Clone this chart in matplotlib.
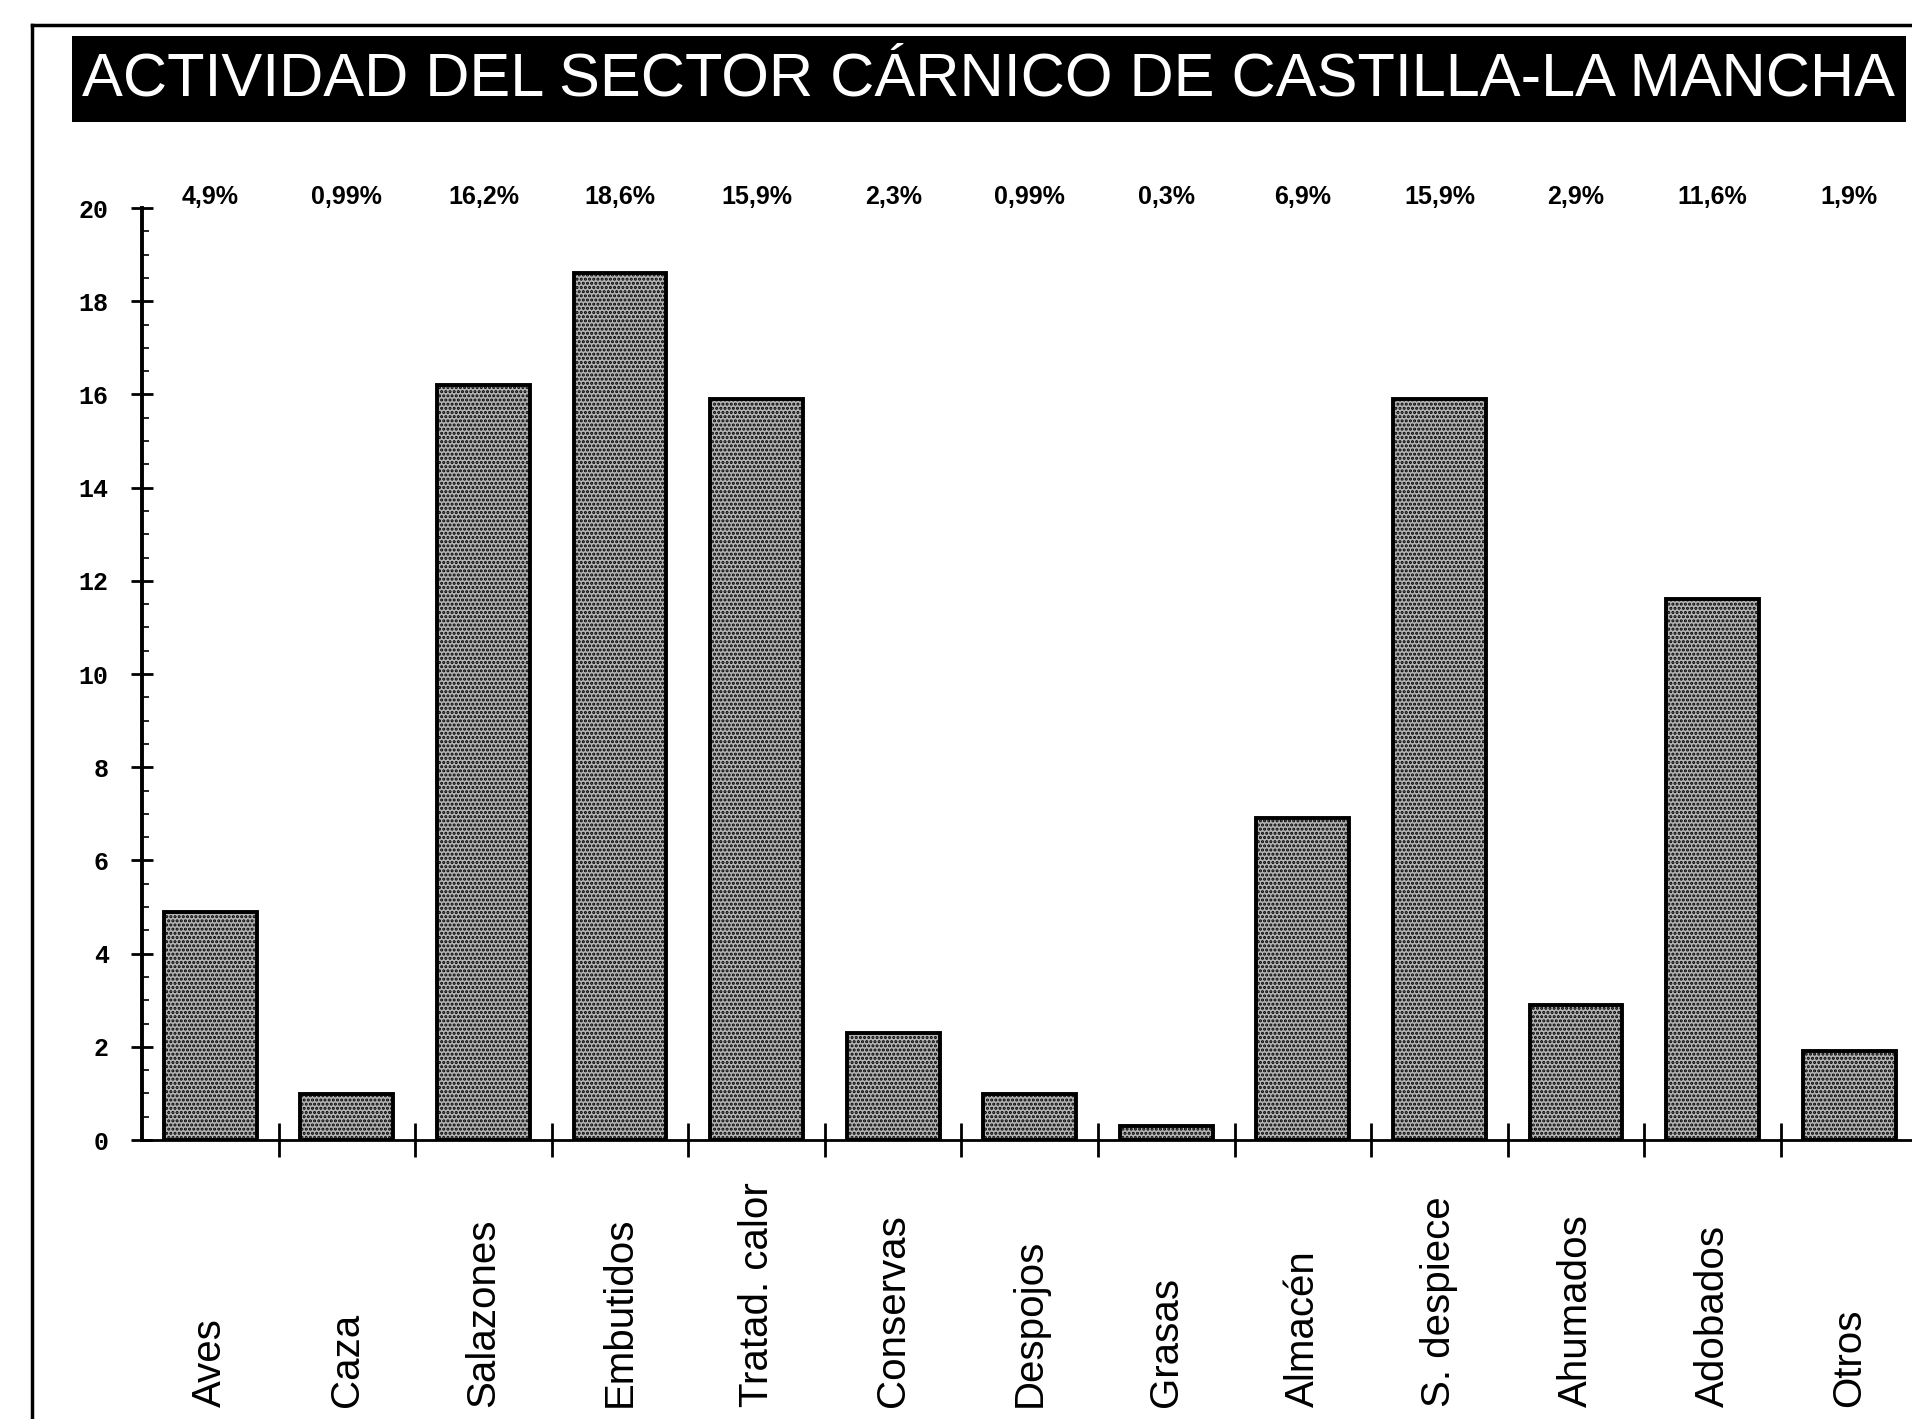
import matplotlib
matplotlib.use("Agg")
import matplotlib.pyplot as plt
from matplotlib.patches import Rectangle
from matplotlib.lines import Line2D
from matplotlib.ticker import MultipleLocator, FixedLocator
import numpy as np

categories = ["Aves", "Caza", "Salazones", "Embutidos", "Tratad. calor", "Conservas",
              "Despojos", "Grasas", "Almacén", "S. despiece", "Ahumados", "Adobados", "Otros"]
values = [4.9, 0.99, 16.2, 18.6, 15.9, 2.3, 0.99, 0.3, 6.9, 15.9, 2.9, 11.6, 1.9]
pct_labels = ["4,9%", "0,99%", "16,2%", "18,6%", "15,9%", "2,3%", "0,99%", "0,3%",
              "6,9%", "15,9%", "2,9%", "11,6%", "1,9%"]
yticks = [0, 2, 4, 6, 8, 10, 12, 14, 16, 18, 20]
title = "ACTIVIDAD DEL SECTOR CÁRNICO DE CASTILLA-LA MANCHA"

plt.rcParams["hatch.linewidth"] = 1.5
plt.rcParams["hatch.color"] = "#222222"

W, H = 1912, 1419
fig = plt.figure(figsize=(W / 100, H / 100), dpi=100)
fig.patch.set_facecolor("white")

# outer frame (left and top)
fig.add_artist(Line2D([32 / W, 32 / W], [0, 1 - 25 / H], color="black", lw=2.5, transform=fig.transFigure))
fig.add_artist(Line2D([32 / W, 1], [1 - 25 / H, 1 - 25 / H], color="black", lw=2.5, transform=fig.transFigure))

# title box
bx0, bx1, by0, by1 = 72, 1906, 36, 122
fig.add_artist(Rectangle((bx0 / W, 1 - by1 / H), (bx1 - bx0) / W, (by1 - by0) / H,
                         transform=fig.transFigure, facecolor="black", edgecolor="none"))
ttl = fig.text((82 + 1895) / 2 / W, 1 - 80 / H, title, color="white", ha="center", va="center",
               fontsize=47, family=["Liberation Sans", "DejaVu Sans"])
renderer = fig.canvas.get_renderer()
tw = ttl.get_window_extent(renderer).width
target = 1813.0
if tw > target:
    ttl.set_fontsize(47 * target / tw)

left = 142 / W
bottom = 1 - 1140 / H
top = 1 - 208 / H
ax = fig.add_axes([left, bottom, 1 - left, top - bottom])
ax.set_facecolor("none")

x = np.arange(len(categories))
ax.bar(x, values, width=0.68, color="#b4b4b4", edgecolor="black", linewidth=2.8,
       hatch="....", zorder=2)

ax.set_xlim(-0.5, 12.46)
ax.set_ylim(0, 20)

for s in ["top", "right"]:
    ax.spines[s].set_visible(False)
ax.spines["left"].set_linewidth(2.8)
ax.spines["bottom"].set_linewidth(2.0)

ax.set_yticks(yticks)
ax.set_yticklabels([str(v) for v in yticks],
                   family=["Liberation Mono", "DejaVu Sans Mono"], fontweight="bold", fontsize=18)
ax.yaxis.set_minor_locator(MultipleLocator(0.5))
ax.tick_params(axis="y", which="major", direction="inout", length=16, width=2, pad=16)
ax.tick_params(axis="y", which="minor", direction="in", length=5, width=1.2)

ax.xaxis.set_major_locator(FixedLocator(list(np.arange(0.5, 12.5, 1.0))))
ax.set_xticklabels([])
ax.tick_params(axis="x", which="major", direction="inout", length=24, width=2)

for xi, lab in zip(x, categories):
    ax.text(xi, -0.286, lab, transform=ax.get_xaxis_transform(), rotation=90,
            ha="center", va="bottom", fontsize=29,
            family=["Liberation Sans", "DejaVu Sans"], clip_on=False)

for xi, lab in zip(x, pct_labels):
    ax.text(xi, 20.24, lab, ha="center", va="center", fontsize=18, fontweight="bold",
            family=["Liberation Sans", "DejaVu Sans"], clip_on=False)

fig.savefig("out.png", dpi=100, facecolor="white")
